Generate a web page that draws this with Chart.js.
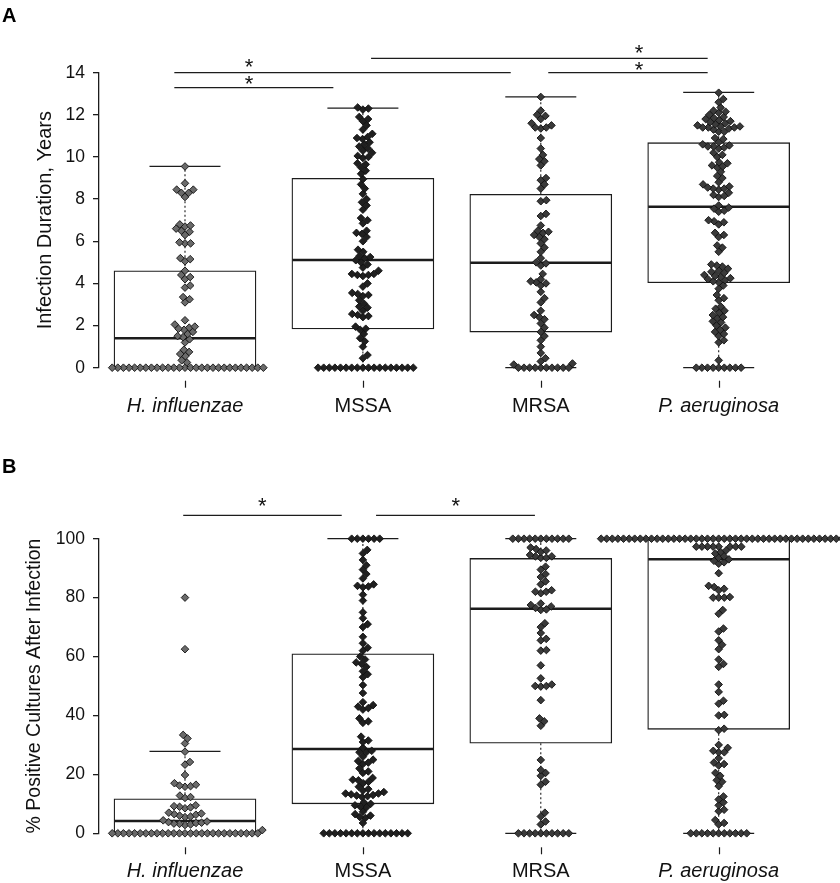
<!DOCTYPE html>
<html>
<head>
<meta charset="utf-8">
<script src="https://cdn.jsdelivr.net/npm/chart.js@4.4.0/dist/chart.umd.min.js"></script>
<style>
  html, body { margin: 0; padding: 0; background: #fff; }
  canvas { display: block; }
</style>
</head>
<body>
<canvas id="chartA" width="840" height="440"></canvas>
<canvas id="chartB" width="840" height="443"></canvas>
<script>
// categories
var categories = ['H. influenzae', 'MSSA', 'MRSA', 'P. aeruginosa'];
var italicCats = [true, false, false, true];

// ---- panel A: infection duration, years ----
var hinfA = [9.55, 8.75, 8.45, 8.45, 8.3, 8.3, 8.1, 6.8, 6.75, 6.7, 6.6, 6.5, 6.45, 6.3, 5.95, 5.9, 5.9,
  5.2, 5.15, 5.05, 4.6, 4.4, 4.3, 4.2, 3.9, 3.8, 3.35, 3.25, 3.1, 2.25, 2.05, 1.95, 1.9, 1.85, 1.8, 1.7,
  1.6, 1.5, 1.45, 1.35, 1.2, 0.85, 0.75, 0.65, 0.55, 0.35, 0.25,
  0, 0, 0, 0, 0, 0, 0, 0, 0, 0, 0, 0, 0, 0, 0, 0, 0, 0, 0, 0, 0, 0, 0, 0, 0, 0, 0, 0];
var mssaA = [12.35, 12.3, 12.25, 11.9, 11.8, 11.7, 11.5, 11.3, 11.1, 10.95, 10.9, 10.85, 10.7, 10.6, 10.5,
  10.4, 10.3, 10.2, 10.05, 10.0, 9.95, 9.7, 9.65, 9.5, 9.35, 9.2, 8.95, 8.7, 8.5, 8.25, 8.0, 7.85, 7.7, 7.5,
  7.1, 7.0, 6.85, 6.5, 6.4, 6.35, 6.2, 6.0, 5.6, 5.5, 5.3, 5.25, 5.2, 5.1, 5.0, 4.9, 4.75, 4.6, 4.45, 4.45,
  4.4, 4.4, 4.35, 4.0, 3.85, 3.55, 3.5, 3.45, 3.4, 3.2, 3.05, 2.9, 2.85, 2.7, 2.55, 2.5, 2.45, 2.4, 1.95,
  1.85, 1.8, 1.6, 1.4, 1.25, 1.0, 0.6, 0.45,
  0, 0, 0, 0, 0, 0, 0, 0, 0, 0, 0, 0, 0, 0, 0, 0, 0, 0];
var mrsaA = [12.85, 12.2, 12.0, 11.95, 11.8, 11.6, 11.5, 11.4, 11.4, 11.35, 10.9, 10.4, 10.1, 9.9, 9.8, 9.6,
  9.0, 8.9, 8.7, 8.5, 7.95, 7.9, 7.3, 7.2, 6.75, 6.5, 6.45, 6.4, 6.3, 6.2, 6.1, 5.9, 5.7, 5.5, 5.2, 5.0,
  4.95, 4.85, 4.45, 4.2, 4.1, 4.05, 4.0, 3.9, 3.6, 3.3, 3.1, 2.7, 2.5, 2.4, 2.3, 2.1, 1.9, 1.7, 1.5, 1.3,
  1.0, 0.7, 0.45, 0.3, 0.2, 0.15,
  0, 0, 0, 0, 0, 0, 0, 0, 0, 0];
var paerA = [13.05, 12.75, 12.6, 12.35, 12.2, 12.15, 12.1, 12.0, 11.9, 11.85, 11.8, 11.75, 11.7, 11.65, 11.6,
  11.55, 11.5, 11.45, 11.45, 11.4, 11.4, 11.4, 11.35, 11.3, 11.2, 11.2, 10.9, 10.85, 10.7, 10.6, 10.55, 10.5,
  10.5, 10.45, 10.4, 10.2, 10.1, 10.0, 9.75, 9.7, 9.6, 9.55, 9.5, 9.3, 9.1, 9.0, 8.8, 8.7, 8.6, 8.55, 8.5,
  8.5, 8.45, 8.3, 8.2, 8.15, 8.1, 7.7, 7.6, 7.55, 7.45, 7.4, 7.0, 6.95, 6.9, 6.8, 6.4, 6.3, 6.2, 5.8, 5.7,
  5.5, 4.9, 4.85, 4.8, 4.7, 4.6, 4.55, 4.5, 4.4, 4.35, 4.3, 4.25, 4.2, 4.15, 4.1, 4.05, 3.9, 3.75, 3.45,
  3.3, 3.2, 2.9, 2.8, 2.7, 2.6, 2.5, 2.4, 2.35, 2.2, 2.15, 2.0, 1.9, 1.8, 1.7, 1.6, 1.5, 1.3, 1.2, 0.35,
  0, 0, 0, 0, 0, 0, 0, 0, 0];
// box statistics: lower whisker, Q1, median, Q3, upper whisker
var loA = [0, 0, 0, 0];
var q1A = [0, 1.84, 1.69, 4.03];
var medA = [1.4, 5.11, 4.98, 7.64];
var q3A = [4.6, 8.99, 8.23, 10.68];
var hiA = [9.55, 12.32, 12.85, 13.07];
var ticksA = [0, 2, 4, 6, 8, 10, 12, 14];

// ---- panel B: % positive cultures after infection ----
var hinfB = [80, 62.5, 33.4, 32.2, 30.5, 27.7, 24.2, 23.3, 19.8, 17, 16.5, 16.2, 16, 15.8, 12.8, 12.3, 12,
  9.5, 9.2, 9, 8.8, 8.5, 7, 6.7, 6.5, 6.3, 6, 5.7, 5.5, 4.4, 4, 3.8, 3.6, 3.5, 3.3, 3.2, 3, 2.8, 1.1,
  0, 0, 0, 0, 0, 0, 0, 0, 0, 0, 0, 0, 0, 0, 0, 0, 0, 0, 0, 0, 0, 0, 0, 0, 0, 0, 0];
var mssaB = [100, 100, 100, 100, 100, 100, 96.2, 95, 92.8, 91, 89.5, 88, 86.5, 84.5, 84, 83.8, 83.5, 81, 79,
  75, 73, 71, 70, 66.7, 64.5, 63, 62, 60, 59, 58, 57.5, 56.5, 55, 54, 53, 50.3, 47.6, 44.5, 43.5, 43,
  42.5, 42, 39, 38, 37.5, 32.8, 31.5, 31, 29, 28, 27.5, 27.5, 26, 25, 24.5, 24, 23.5, 22, 21, 20.5, 18.8,
  18.2, 18, 17.5, 17, 15.8, 15, 14.5, 14, 13.5, 13.5, 13.2, 13, 12.8, 12.6, 12.3, 10.5, 10, 9.5, 9, 8.8,
  7.3, 6.5, 6, 5.5, 5.2, 3.5,
  0, 0, 0, 0, 0, 0, 0, 0, 0, 0, 0, 0, 0, 0, 0, 0];
var mrsaB = [100, 100, 100, 100, 100, 100, 100, 100, 100, 100, 100, 97, 96.5, 96, 95.5, 94.5, 94, 94, 93.5,
  93.5, 90.5, 89.5, 88, 87, 85.5, 84.5, 82.5, 82, 82, 81.5, 78, 77.5, 77, 76.5, 76, 75.8, 71.3, 70, 68, 66,
  65.5, 62.2, 62, 57, 52.6, 50.5, 50, 50, 49.8, 45.2, 39, 38, 36.5, 24.9, 21.5, 20.5, 19.5, 17.5, 16.5, 7,
  5.7, 4, 3,
  0, 0, 0, 0, 0, 0, 0, 0, 0, 0];
var paerB = [100, 100, 100, 100, 100, 100, 100, 100, 100, 100, 100, 100, 100, 100, 100, 100, 100, 100, 100,
  100, 100, 100, 100, 100, 100, 100, 100, 100, 100, 100, 100, 100, 100, 100, 100, 100, 100, 100, 100, 100,
  100, 100, 100, 100,
  97.3, 97.3, 97.3, 97.3, 97.3, 97.3, 97.3, 97.3, 96, 95.5, 95, 94, 93.5, 93, 92.5, 92, 91.5, 88.3, 84,
  83.6, 83, 82.5, 80.2, 80, 80, 80, 75.8, 74.5, 69.5, 68.5, 65.5, 64, 62.5, 59, 57.5, 56.5, 50.5, 48, 45,
  44, 40.2, 40, 35.5, 35, 30, 29, 28, 27.5, 27.5, 25.5, 24, 23.5, 23, 20.5, 19.5, 18, 17.5, 16, 12.5, 11.5,
  10.5, 9.5, 8, 7.5, 4.5, 3.5, 3,
  0, 0, 0, 0, 0, 0, 0, 0, 0, 0, 0];
var loB = [0, 0, 0, 0];
var q1B = [0, 10.0, 30.6, 35.3];
var medB = [4.2, 28.6, 76.2, 93.0];
var q3B = [11.7, 60.9, 93.3, 100];
var hiB = [27.8, 100, 100, 100];
var ticksB = [0, 20, 40, 60, 80, 100];

// significance brackets: [from, to, level, star x, star level] in axis units
var sigA = [[0.94, 2.831, 14.0, 1.36, 14.46], [0.94, 1.834, 13.29, 1.36, 13.65],
  [2.046, 3.938, 14.68, 3.552, 15.11], [3.042, 3.938, 14.0, 3.552, 14.32]];
var sigB = [[0.99, 1.881, 107.9, 1.435, 112.6], [2.074, 2.967, 107.9, 2.522, 112.6]];

var FONT = "'Liberation Sans', Arial, sans-serif";
var INK = '#1c1c1c';
var pointFills = ['#6a6a6a', '#202020', '#3a3a3a', '#3a3a3a'];
var BOX_W = 142;

function line(ctx, x1, y1, x2, y2) {
  ctx.beginPath(); ctx.moveTo(x1, y1); ctx.lineTo(x2, y2); ctx.stroke();
}

var boxPlugin = {
  id: 'boxExtras',
  afterDatasetDraw: function(chart, args, opts) {
    if (args.meta.type !== 'bar') return;
    var ctx = chart.ctx, xs = chart.scales.x, ys = chart.scales.y, s = opts.stats;
    ctx.save();
    ctx.strokeStyle = INK;
    for (var i = 0; i < categories.length; i++) {
      var cx = xs.getPixelForValue(i + 1);
      var yHi = ys.getPixelForValue(s.hi[i]), yLo = ys.getPixelForValue(s.lo[i]);
      ctx.lineWidth = 1.1;
      ctx.setLineDash([2, 2.5]);
      line(ctx, cx, ys.getPixelForValue(s.q3[i]), cx, yHi);
      line(ctx, cx, ys.getPixelForValue(s.q1[i]), cx, yLo);
      ctx.setLineDash([]);
      ctx.lineWidth = 1.3;
      line(ctx, cx - BOX_W / 4, yHi, cx + BOX_W / 4, yHi);
      line(ctx, cx - BOX_W / 4, yLo, cx + BOX_W / 4, yLo);
      ctx.lineWidth = 2.6;
      var ym = ys.getPixelForValue(s.med[i]);
      line(ctx, cx - BOX_W / 2 + 0.5, ym, cx + BOX_W / 2 - 0.5, ym);
    }
    ctx.restore();
  },
  afterDraw: function(chart, args, opts) {
    var ctx = chart.ctx, xs = chart.scales.x, ys = chart.scales.y;
    var bottom = chart.chartArea.bottom;
    ctx.save();
    ctx.strokeStyle = INK;
    ctx.fillStyle = '#111';
    // x tick marks, detached from the plot like in R
    ctx.lineWidth = 1.2;
    for (var i = 0; i < categories.length; i++) {
      var cx = Math.round(xs.getPixelForValue(i + 1)) + 0.5;
      line(ctx, cx, bottom + opts.tickGap, cx, bottom + opts.tickGap + 7);
    }
    // significance brackets
    ctx.lineWidth = 1.3;
    ctx.font = '22px ' + FONT;
    ctx.textAlign = 'center';
    ctx.textBaseline = 'alphabetic';
    var m = ctx.measureText('*');
    var shift = (m.actualBoundingBoxAscent - m.actualBoundingBoxDescent) / 2;
    opts.sig.forEach(function(b) {
      var yb = ys.getPixelForValue(b[2]);
      line(ctx, xs.getPixelForValue(b[0]), yb, xs.getPixelForValue(b[1]), yb);
      ctx.fillText('*', xs.getPixelForValue(b[3]), ys.getPixelForValue(b[4]) + shift);
    });
    // panel letter
    ctx.textAlign = 'left';
    ctx.font = 'bold 20px ' + FONT;
    ctx.fillStyle = '#000';
    ctx.fillText(opts.letter, 2, opts.letterY);
    ctx.restore();
  }
};

function swarm(chart) {
  var xs = chart.scales.x, ys = chart.scales.y, d = 5.6;
  chart.data.datasets.forEach(function(ds) {
    if (ds.type !== 'scatter') return;
    var cx = xs.getPixelForValue(ds.cat + 1);
    var pts = ds.values.map(function(v) { return {v: v, y: ys.getPixelForValue(v), x: 0}; });
    pts.sort(function(a, b) { return b.y - a.y; });
    var placed = [];
    pts.forEach(function(p) {
      var near = placed.filter(function(q) { return Math.abs(q.y - p.y) < d; });
      var cand = [0];
      near.forEach(function(q) {
        var dx = Math.sqrt(d * d - (q.y - p.y) * (q.y - p.y));
        cand.push(q.x + dx, q.x - dx);
      });
      cand.sort(function(a, b) { return Math.abs(a) - Math.abs(b); });
      for (var k = 0; k < cand.length; k++) {
        var ok = near.every(function(q) {
          var dx = cand[k] - q.x, dy = q.y - p.y;
          return dx * dx + dy * dy >= d * d - 0.01;
        });
        if (ok) { p.x = cand[k]; break; }
      }
      placed.push(p);
    });
    ds.data = placed.map(function(p) { return {x: xs.getValueForPixel(cx + p.x), y: p.v}; });
  });
  chart.update('none');
}

function makePanel(id, cfg) {
  var series = cfg.series;
  var datasets = [{
    type: 'bar',
    data: categories.map(function(c, i) { return {x: i + 1, y: [cfg.q1[i], cfg.q3[i]]}; }),
    backgroundColor: '#ffffff',
    borderColor: INK,
    borderWidth: 1.3,
    borderSkipped: false,
    barThickness: BOX_W,
    order: 5
  }];
  series.forEach(function(vals, i) {
    datasets.push({
      type: 'scatter',
      cat: i,
      values: vals,
      data: vals.map(function(v) { return {x: i + 1, y: v}; }),
      pointStyle: 'rectRot',
      pointRadius: 3.8,
      pointBackgroundColor: pointFills[i],
      pointBorderColor: '#111',
      pointBorderWidth: 0.9,
      clip: false,
      order: 0
    });
  });
  var canvasH = document.getElementById(id).height;
  var chart = new Chart(document.getElementById(id), {
    type: 'scatter',
    data: { datasets: datasets },
    options: {
      responsive: false,
      animation: false,
      events: [],
      layout: { autoPadding: false, padding: { top: cfg.top, right: 0, left: 0, bottom: 0 } },
      plugins: {
        legend: { display: false },
        tooltip: { enabled: false },
        boxExtras: {
          stats: { lo: cfg.lo, q1: cfg.q1, med: cfg.med, q3: cfg.q3, hi: cfg.hi },
          sig: cfg.sig, letter: cfg.letter, letterY: cfg.letterY, tickGap: cfg.tickGap
        }
      },
      scales: {
        x: {
          type: 'linear',
          min: 0.5166,
          max: 4.6819,
          offset: false,
          grid: { display: false, drawTicks: false, offset: false },
          border: { display: false },
          afterBuildTicks: function(s) { s.ticks = categories.map(function(c, i) { return {value: i + 1}; }); },
          afterFit: function(s) { s.height = canvasH - cfg.bottom; },
          ticks: {
            autoSkip: false,
            maxRotation: 0,
            padding: cfg.xPad,
            color: '#111',
            callback: function(v, i) { return categories[i]; },
            font: function(c) { return {family: FONT, size: 20, style: italicCats[c.index] ? 'italic' : 'normal'}; }
          }
        },
        y: {
          type: 'linear',
          min: cfg.ticks[0],
          max: cfg.ticks[cfg.ticks.length - 1],
          afterBuildTicks: function(s) { s.ticks = cfg.ticks.map(function(v) { return {value: v}; }); },
          afterFit: function(s) { s.width = 99; },
          grid: { drawOnChartArea: false, drawTicks: true, tickLength: 6, color: INK, lineWidth: 1.3 },
          border: { display: true, color: INK, width: 1.3 },
          ticks: { padding: 8, color: '#111', font: { family: FONT, size: 17.5 } },
          title: {
            display: true,
            text: cfg.title,
            color: '#111',
            padding: { top: cfg.titlePad, bottom: 0 },
            font: { family: FONT, size: cfg.titleSize }
          }
        }
      }
    },
    plugins: [boxPlugin]
  });
  swarm(chart);
  return chart;
}

makePanel('chartA', {
  series: [hinfA, mssaA, mrsaA, paerA],
  lo: loA, q1: q1A, med: medA, q3: q3A, hi: hiA, ticks: ticksA, sig: sigA,
  title: 'Infection Duration, Years', titleSize: 20, titlePad: 33,
  top: 72.7, bottom: 367.7, xPad: 27, tickGap: 13, letter: 'A', letterY: 22
});
makePanel('chartB', {
  series: [hinfB, mssaB, mrsaB, paerB],
  lo: loB, q1: q1B, med: medB, q3: q3B, hi: hiB, ticks: ticksB, sig: sigB,
  title: '% Positive Cultures After Infection', titleSize: 19.5, titlePad: 23,
  top: 98.7, bottom: 393.3, xPad: 26, tickGap: 14, letter: 'B', letterY: 33.3
});
</script>
</body>
</html>
